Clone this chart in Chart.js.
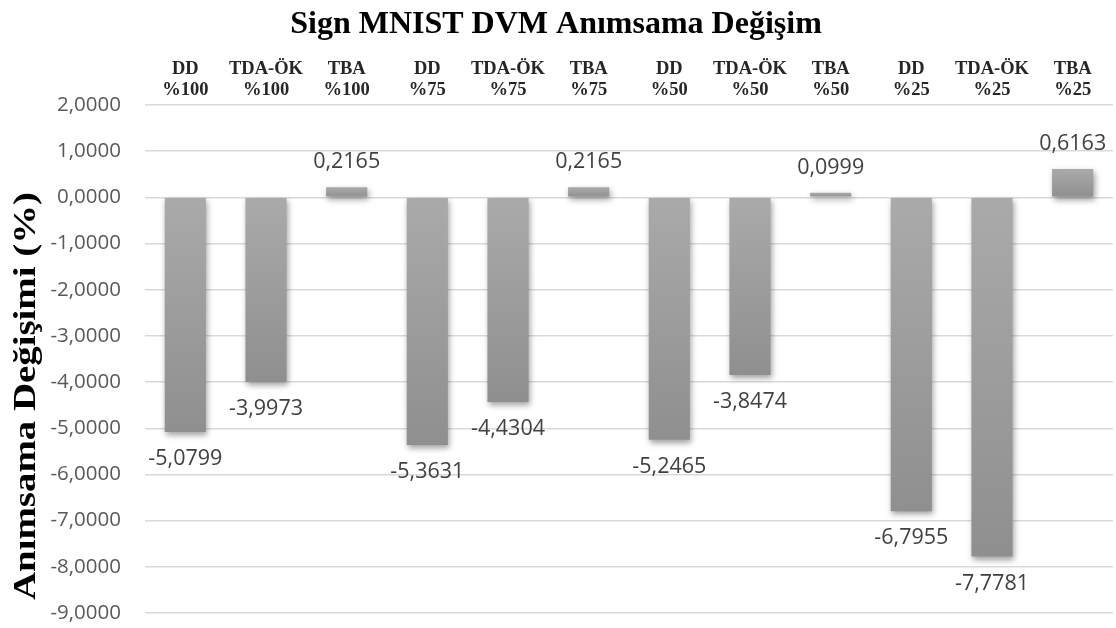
<!DOCTYPE html>
<html>
<head>
<meta charset="utf-8">
<script src="https://cdn.jsdelivr.net/npm/chart.js@4/dist/chart.umd.min.js"></script>
<style>
  html, body { margin: 0; padding: 0; background: #ffffff; }
  #wrap { width: 1116px; height: 628px; position: relative; }
</style>
</head>
<body>
<div id="wrap"><canvas id="c" width="1116" height="628"></canvas></div>
<script>
// Method and rate labels shown along the top axis
const methods = ['DD', 'TDA-ÖK', 'TBA', 'DD', 'TDA-ÖK', 'TBA', 'DD', 'TDA-ÖK', 'TBA', 'DD', 'TDA-ÖK', 'TBA'];
const rates = ['%100', '%100', '%100', '%75', '%75', '%75', '%50', '%50', '%50', '%25', '%25', '%25'];
// Recall change per configuration (%)
const recallChange = [-5.0799, -3.9973, 0.2165, -5.3631, -4.4304, 0.2165, -5.2465, -3.8474, 0.0999, -6.7955, -7.7781, 0.6163];
// Value axis range and step
const yMin = -9, yMax = 2, yStep = 1;

const chartTitle = 'Sign MNIST DVM Anımsama Değişim';
const yTitle = 'Anımsama Değişimi (%)';

const categories = methods.map((m, i) => [m, rates[i]]);
const fmt = v => v.toFixed(4).replace('.', ',');

// Soft drop shadow behind the bars
const barShadow = {
  id: 'barShadow',
  beforeDatasetsDraw(chart) {
    const ctx = chart.ctx;
    ctx.save();
    ctx.shadowColor = 'rgba(0,0,0,0.38)';
    ctx.shadowBlur = 6;
    ctx.shadowOffsetX = 1.5;
    ctx.shadowOffsetY = 3;
  },
  afterDatasetsDraw(chart) {
    chart.ctx.restore();
  }
};

// Value labels outside the bar ends, plus the chart and axis titles
const decorations = {
  id: 'decorations',
  afterDraw(chart) {
    const ctx = chart.ctx;
    const meta = chart.getDatasetMeta(0);
    ctx.save();
    ctx.font = '21.5px "Open Sans"';
    ctx.fillStyle = '#404040';
    ctx.textAlign = 'center';
    ctx.textBaseline = 'middle';
    meta.data.forEach((bar, i) => {
      const v = recallChange[i];
      const y = v < 0 ? bar.y + 27 : bar.y - 25;
      ctx.fillText(fmt(v), bar.x, y);
    });

    // chart title
    ctx.font = 'bold 32px "Liberation Serif"';
    ctx.fillStyle = '#000000';
    ctx.textBaseline = 'alphabetic';
    ctx.fillText(chartTitle, 556, 33);

    // vertical axis title
    ctx.font = 'bold 32px "Liberation Serif"';
    const w = ctx.measureText(yTitle).width;
    ctx.translate(35, 396);
    ctx.rotate(-Math.PI / 2);
    ctx.scale(408 / w, 1);
    ctx.fillText(yTitle, 0, 0);
    ctx.restore();
  }
};

function barFill(context) {
  const chart = context.chart;
  const y = chart.scales && chart.scales.y;
  if (!y || !chart.chartArea) return '#a0a0a0';
  const v = context.raw;
  const y0 = y.getPixelForValue(0);
  const y1 = y.getPixelForValue(v);
  const top = Math.min(y0, y1), bottom = Math.max(y0, y1);
  if (bottom - top < 1) return '#a0a0a0';
  const g = chart.ctx.createLinearGradient(0, top, 0, bottom);
  g.addColorStop(0, '#aaaaaa');
  g.addColorStop(1, '#8f8f8f');
  return g;
}

new Chart(document.getElementById('c'), {
  type: 'bar',
  data: {
    labels: categories,
    datasets: [{
      data: recallChange,
      backgroundColor: barFill,
      borderWidth: 0,
      barPercentage: 0.51,
      categoryPercentage: 1
    }]
  },
  options: {
    responsive: false,
    animation: false,
    layout: { padding: { top: 0, right: 3, bottom: 15, left: 0 } },
    plugins: {
      legend: { display: false },
      title: { display: false },
      tooltip: { enabled: false }
    },
    scales: {
      x: {
        position: 'top',
        grid: { display: false, drawTicks: false },
        border: { display: false },
        ticks: {
          color: '#262626',
          font: { family: '"Liberation Serif"', size: 18.5, weight: 'bold', lineHeight: 1.1 },
          padding: 5,
          maxRotation: 0,
          autoSkip: false
        },
        afterFit(scale) {
          scale.height = 105;
          scale.paddingLeft = 0;
          scale.paddingRight = 0;
        }
      },
      y: {
        min: yMin,
        max: yMax,
        grid: { color: '#d9d9d9', lineWidth: 1.5, drawTicks: false },
        border: { display: false },
        ticks: {
          stepSize: yStep,
          color: '#595959',
          font: { family: '"Open Sans"', size: 20.5 },
          padding: 24,
          callback: v => fmt(v)
        },
        afterFit(scale) {
          scale.width = 145;
          scale.paddingTop = 0;
          scale.paddingBottom = 0;
        }
      }
    }
  },
  plugins: [barShadow, decorations]
});
</script>
</body>
</html>
